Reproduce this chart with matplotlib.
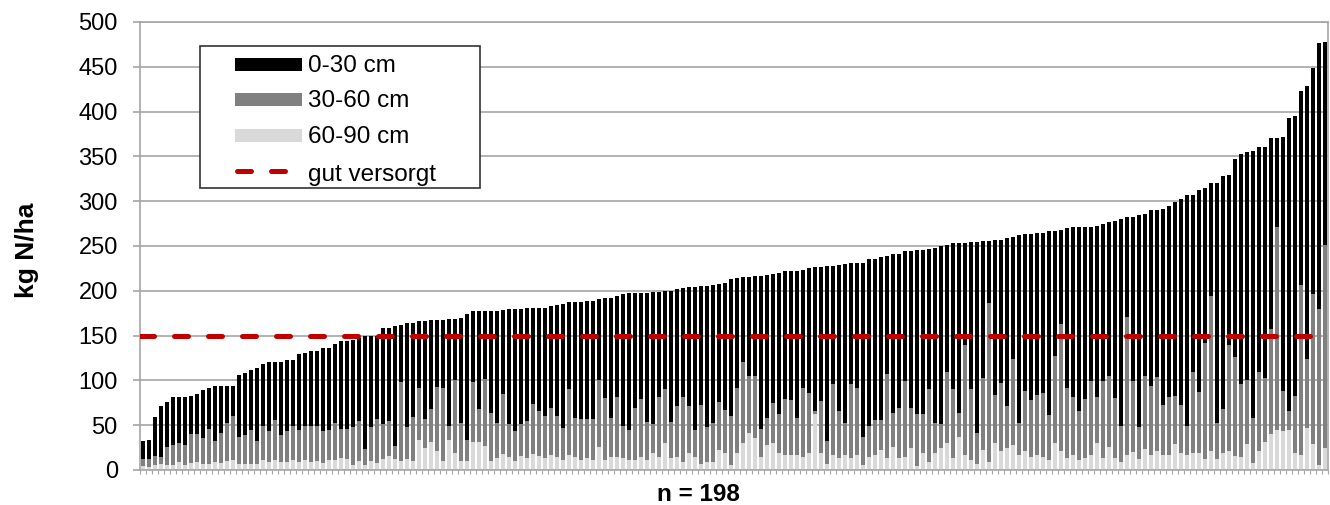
import numpy as np
import matplotlib
matplotlib.use("Agg")
import matplotlib.pyplot as plt
from matplotlib.patches import Rectangle
from matplotlib.lines import Line2D

# ---- data (kg N/ha) ----
# total N (0-90 cm), sorted ascending
total_0_90 = [
    32, 34, 59, 71, 76, 81, 81, 81, 83, 85,
    89, 92, 94, 94, 94, 94, 106, 108, 112, 114,
    118, 120, 120, 120, 123, 123, 129, 131, 133, 133,
    136, 136, 141, 144, 144, 145, 147, 149, 149, 150,
    158, 158, 161, 162, 164, 164, 166, 166, 167, 167,
    167, 168, 169, 170, 174, 178, 178, 178, 178, 178,
    179, 180, 180, 180, 181, 181, 181, 181, 183, 184,
    185, 187, 187, 188, 189, 189, 191, 192, 192, 194,
    196, 197, 198, 198, 198, 199, 199, 200, 200, 202,
    203, 204, 204, 205, 205, 206, 208, 209, 213, 214,
    215, 215, 216, 216, 218, 219, 220, 222, 222, 222,
    223, 226, 227, 227, 228, 228, 229, 230, 231, 231,
    231, 235, 236, 238, 239, 241, 241, 244, 244, 246,
    246, 247, 248, 250, 251, 253, 253, 253, 254, 255,
    256, 256, 257, 257, 259, 260, 262, 263, 263, 264,
    264, 267, 267, 268, 270, 271, 271, 271, 271, 272,
    274, 277, 278, 280, 282, 282, 285, 286, 290, 290,
    291, 295, 299, 303, 307, 307, 313, 315, 320, 320,
    328, 329, 347, 353, 355, 356, 361, 361, 370, 371,
    372, 393, 395, 423, 429, 449, 477, 478,
]
# N in 30-90 cm (top of the 30-60 cm segment)
total_30_90 = [
    12, 12, 16, 15, 26, 28, 30, 28, 40, 40,
    36, 46, 32, 41, 52, 60, 37, 39, 45, 32,
    49, 43, 56, 39, 43, 49, 45, 49, 49, 49,
    43, 45, 52, 46, 46, 48, 55, 23, 48, 57,
    51, 55, 27, 98, 48, 59, 91, 57, 68, 93,
    91, 49, 100, 53, 33, 98, 68, 102, 64, 53,
    85, 51, 44, 51, 55, 74, 66, 60, 69, 60,
    47, 90, 58, 57, 57, 57, 101, 80, 58, 82,
    49, 45, 69, 79, 54, 51, 82, 90, 54, 71,
    81, 71, 45, 72, 48, 52, 76, 67, 60, 91,
    120, 105, 105, 46, 58, 75, 62, 79, 78, 58,
    92, 86, 66, 77, 32, 96, 66, 52, 96, 92,
    37, 49, 56, 56, 107, 64, 69, 99, 69, 62,
    62, 90, 52, 51, 109, 90, 64, 139, 90, 41,
    103, 186, 84, 97, 71, 124, 52, 88, 78, 84,
    86, 61, 127, 163, 92, 82, 66, 79, 99, 82,
    99, 105, 80, 49, 171, 99, 48, 105, 94, 104,
    73, 81, 83, 73, 49, 109, 87, 142, 194, 52,
    68, 139, 126, 96, 101, 58, 109, 103, 157, 271,
    88, 66, 83, 206, 124, 196, 180, 251,
]
# N in 60-90 cm
n_60_90 = [
    4, 3, 6, 7, 6, 6, 9, 6, 8, 9,
    7, 7, 9, 8, 10, 11, 7, 7, 7, 7,
    11, 9, 11, 9, 9, 11, 9, 11, 9, 10,
    8, 11, 11, 13, 12, 6, 10, 6, 10, 8,
    12, 16, 12, 10, 12, 10, 33, 25, 31, 21,
    10, 33, 19, 10, 10, 31, 31, 27, 10, 13,
    18, 14, 10, 16, 13, 18, 16, 13, 17, 15,
    11, 17, 15, 11, 13, 11, 26, 11, 15, 15,
    13, 11, 11, 15, 11, 19, 15, 30, 13, 15,
    9, 19, 15, 7, 9, 9, 22, 19, 6, 19,
    30, 41, 36, 15, 28, 30, 19, 17, 17, 17,
    15, 19, 62, 19, 7, 17, 13, 17, 13, 17,
    6, 15, 17, 22, 13, 26, 13, 15, 24, 4,
    19, 9, 19, 25, 30, 13, 37, 17, 11, 7,
    22, 9, 30, 21, 24, 28, 17, 21, 15, 17,
    15, 11, 30, 21, 13, 17, 11, 13, 17, 30,
    13, 26, 13, 9, 17, 20, 12, 23, 17, 21,
    17, 17, 29, 19, 17, 19, 19, 12, 21, 12,
    19, 21, 16, 14, 29, 8, 21, 31, 40, 45,
    44, 45, 19, 17, 47, 29, 6, 25,
]
threshold = 150
series_labels = ["0-30 cm", "30-60 cm", "60-90 cm", "gut versorgt"]
y_ticks = [0, 50, 100, 150, 200, 250, 300, 350, 400, 450, 500]
y_label = "kg N/ha"
x_label = "n = 198"

# ---- derived segments ----
tot = np.array(total_0_90, dtype=float)
c30 = np.array(total_30_90, dtype=float)
seg_60_90 = np.array(n_60_90, dtype=float)
seg_30_60 = c30 - seg_60_90
seg_0_30 = tot - c30

plt.rcParams["font.family"] = ["Liberation Sans", "DejaVu Sans"]
plt.rcParams["lines.scale_dashes"] = True

W, H = 1330, 505
fig = plt.figure(figsize=(W / 100, H / 100), dpi=100)
ax = fig.add_axes([140 / W, 1 - 470 / H, 1188 / W, 448 / H])

n = len(tot)
x = np.arange(n)
bw = 0.68
c_black, c_gray, c_light, c_red = "#000000", "#808080", "#d9d9d9", "#c00000"
grid_c = "#a6a6a6"

ax.bar(x, seg_60_90, width=bw, color=c_light, zorder=2, linewidth=0)
ax.bar(x, seg_30_60, bottom=seg_60_90, width=bw, color=c_gray, zorder=2, linewidth=0)
ax.bar(x, seg_0_30, bottom=c30, width=bw, color=c_black, zorder=2, linewidth=0)

ax.plot([-0.5, n - 0.5], [threshold, threshold], color=c_red, lw=3.6,
        dashes=(2.8, 4.0), dash_capstyle="round", zorder=3)

ax.set_xlim(-0.5, n - 0.5)
ax.set_ylim(0, 500)
ax.set_yticks(y_ticks)
ax.set_yticklabels([str(v) for v in y_ticks])
ax.yaxis.grid(True, color=grid_c, lw=1.2, zorder=0)
ax.set_axisbelow(True)
for s in ax.spines.values():
    s.set_color(grid_c)
    s.set_linewidth(1.2)
ax.tick_params(axis="y", length=5, width=1.2, color=grid_c, labelsize=17,
               pad=11, labelcolor="#000000")
ax.set_xticks(np.arange(-0.5, n, 1.0))
ax.tick_params(axis="x", length=3, width=0.8, color=grid_c, labelbottom=False)

fig.text(27 / W, 1 - 250 / H, y_label, rotation=90, ha="center", va="center",
         fontsize=19, fontweight="bold")
fig.text(698 / W, 1 - 501 / H, x_label, ha="center", va="baseline",
         fontsize=17.5, fontweight="bold")

# ---- legend drawn in pixel coordinates on an overlay ----
ov = fig.add_axes([0, 0, 1, 1], zorder=10)
ov.set_xlim(0, W)
ov.set_ylim(H, 0)
ov.axis("off")
ov.add_patch(Rectangle((200, 46), 280, 142, facecolor="white",
                       edgecolor="#333333", lw=1.2))
for yc, col in zip([64, 99.5, 135.5], [c_black, c_gray, c_light]):
    ov.add_patch(Rectangle((235, yc - 6.5), 67, 13, facecolor=col, edgecolor="none"))
ov.add_line(Line2D([237, 290], [171, 171], color=c_red, lw=3.6,
                   dashes=(2.8, 4.0), dash_capstyle="round"))
for yb, lab in zip([71.7, 106.7, 142.7, 180.7], series_labels):
    ov.text(308, yb, lab, ha="left", va="baseline", fontsize=17.5)

fig.savefig("out.png", dpi=100)
